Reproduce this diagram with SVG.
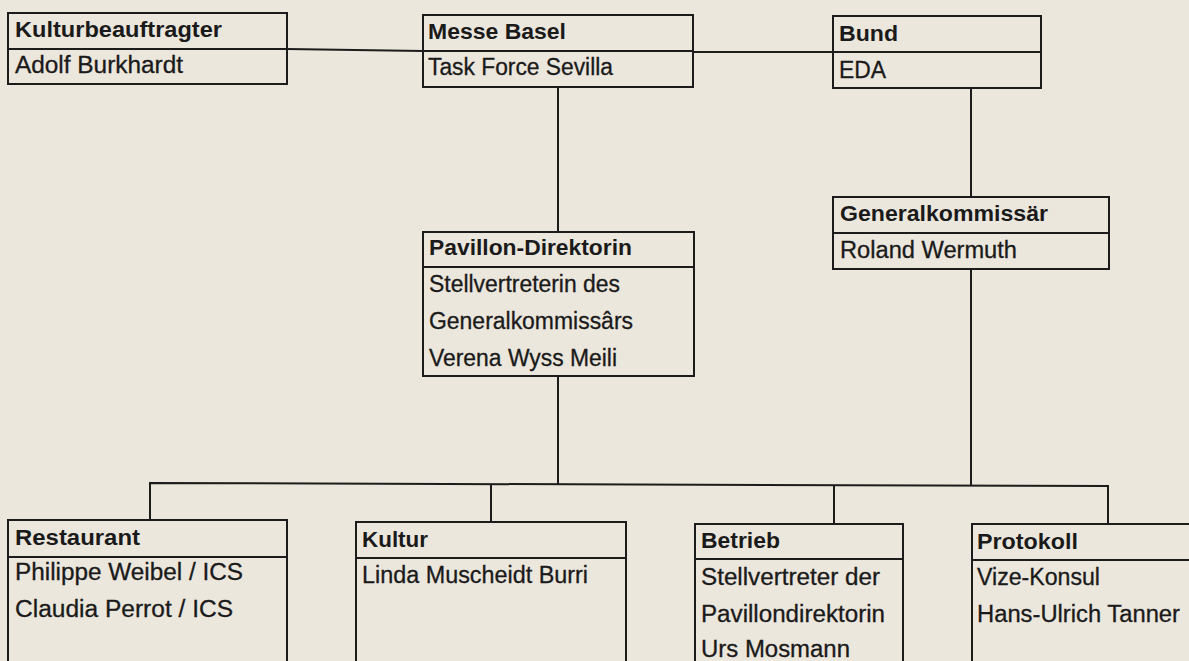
<svg xmlns="http://www.w3.org/2000/svg" width="1189" height="661" viewBox="0 0 1189 661">
<style>
.box{fill:none;stroke:#1c1c1c;stroke-width:2}
.div{stroke:#1c1c1c;stroke-width:2}
.con{stroke:#1c1c1c;stroke-width:2;fill:none}
.h{font-family:"Liberation Sans",Arial,Helvetica,sans-serif;font-weight:bold;font-size:22.5px;fill:#1a1a1a}
.t{font-family:"Liberation Sans",Arial,Helvetica,sans-serif;font-size:23px;fill:#1a1a1a;stroke:#1a1a1a;stroke-width:0.3px}
</style>
<rect width="1189" height="661" fill="#ece7dd"/>
<g id="connectors">
<path class="con" d="M287,49 L423,51"/>
<path class="con" d="M693,52 L833,52"/>
<path class="con" d="M558,87 L558,232"/>
<path class="con" d="M971,88 L971,197"/>
<path class="con" d="M971,269 L971,486"/>
<path class="con" d="M558,376 L558,484"/>
<path class="con" d="M150,520 L150,483 L1108,486 L1108,524"/>
<path class="con" d="M491,484 L491,522"/>
<path class="con" d="M834,485 L834,524"/>
</g>
<g id="kulturbeauftragter">
<rect class="box" x="8" y="13" width="279" height="71"/>
<line class="div" x1="8" y1="49" x2="287" y2="49"/>
<text class="h" x="15" y="37" textLength="207" lengthAdjust="spacingAndGlyphs">Kulturbeauftragter</text>
<text class="t" x="15" y="73" textLength="168" lengthAdjust="spacingAndGlyphs">Adolf Burkhardt</text>
</g>
<g id="messe-basel">
<rect class="box" x="423" y="15" width="270" height="72"/>
<line class="div" x1="423" y1="51" x2="693" y2="51"/>
<text class="h" x="428" y="39" textLength="138" lengthAdjust="spacingAndGlyphs">Messe Basel</text>
<text class="t" x="428" y="75" textLength="185" lengthAdjust="spacingAndGlyphs">Task Force Sevilla</text>
</g>
<g id="bund">
<rect class="box" x="833" y="16" width="208" height="72"/>
<line class="div" x1="833" y1="52" x2="1041" y2="52"/>
<text class="h" x="839" y="41" textLength="59" lengthAdjust="spacingAndGlyphs">Bund</text>
<text class="t" x="839" y="78" textLength="47" lengthAdjust="spacingAndGlyphs">EDA</text>
</g>
<g id="generalkommissaer">
<rect class="box" x="833" y="197" width="276" height="72"/>
<line class="div" x1="833" y1="233" x2="1109" y2="233"/>
<text class="h" x="840" y="221" textLength="208" lengthAdjust="spacingAndGlyphs">Generalkommissär</text>
<text class="t" x="840" y="258" textLength="177" lengthAdjust="spacingAndGlyphs">Roland Wermuth</text>
</g>
<g id="pavillon-direktorin">
<rect class="box" x="423" y="232" width="271" height="144"/>
<line class="div" x1="423" y1="267" x2="694" y2="267"/>
<text class="h" x="429" y="255" textLength="203" lengthAdjust="spacingAndGlyphs">Pavillon-Direktorin</text>
<text class="t" x="429" y="292" textLength="191" lengthAdjust="spacingAndGlyphs">Stellvertreterin des</text>
<text class="t" x="429" y="329" textLength="204" lengthAdjust="spacingAndGlyphs">Generalkommissârs</text>
<text class="t" x="429" y="366" textLength="188" lengthAdjust="spacingAndGlyphs">Verena Wyss Meili</text>
</g>
<g id="restaurant">
<rect class="box" x="8" y="520" width="279" height="160"/>
<line class="div" x1="8" y1="557" x2="287" y2="557"/>
<text class="h" x="15" y="545" textLength="125" lengthAdjust="spacingAndGlyphs">Restaurant</text>
<text class="t" x="15" y="580" textLength="228" lengthAdjust="spacingAndGlyphs">Philippe Weibel / ICS</text>
<text class="t" x="15" y="617" textLength="218" lengthAdjust="spacingAndGlyphs">Claudia Perrot / ICS</text>
</g>
<g id="kultur">
<rect class="box" x="356" y="522" width="270" height="160"/>
<line class="div" x1="356" y1="558" x2="626" y2="558"/>
<text class="h" x="362" y="547" textLength="66" lengthAdjust="spacingAndGlyphs">Kultur</text>
<text class="t" x="362" y="583" textLength="226" lengthAdjust="spacingAndGlyphs">Linda Muscheidt Burri</text>
</g>
<g id="betrieb">
<rect class="box" x="695" y="524" width="208" height="160"/>
<line class="div" x1="695" y1="559" x2="903" y2="559"/>
<text class="h" x="701" y="548" textLength="79" lengthAdjust="spacingAndGlyphs">Betrieb</text>
<text class="t" x="701" y="585" textLength="179" lengthAdjust="spacingAndGlyphs">Stellvertreter der</text>
<text class="t" x="701" y="622" textLength="184" lengthAdjust="spacingAndGlyphs">Pavillondirektorin</text>
<text class="t" x="701" y="657" textLength="149" lengthAdjust="spacingAndGlyphs">Urs Mosmann</text>
</g>
<g id="protokoll">
<rect class="box" x="972" y="524" width="240" height="160"/>
<line class="div" x1="972" y1="560" x2="1195" y2="560"/>
<text class="h" x="977" y="549" textLength="101" lengthAdjust="spacingAndGlyphs">Protokoll</text>
<text class="t" x="977" y="585" textLength="123" lengthAdjust="spacingAndGlyphs">Vize-Konsul</text>
<text class="t" x="977" y="622" textLength="203" lengthAdjust="spacingAndGlyphs">Hans-Ulrich Tanner</text>
</g>
</svg>
